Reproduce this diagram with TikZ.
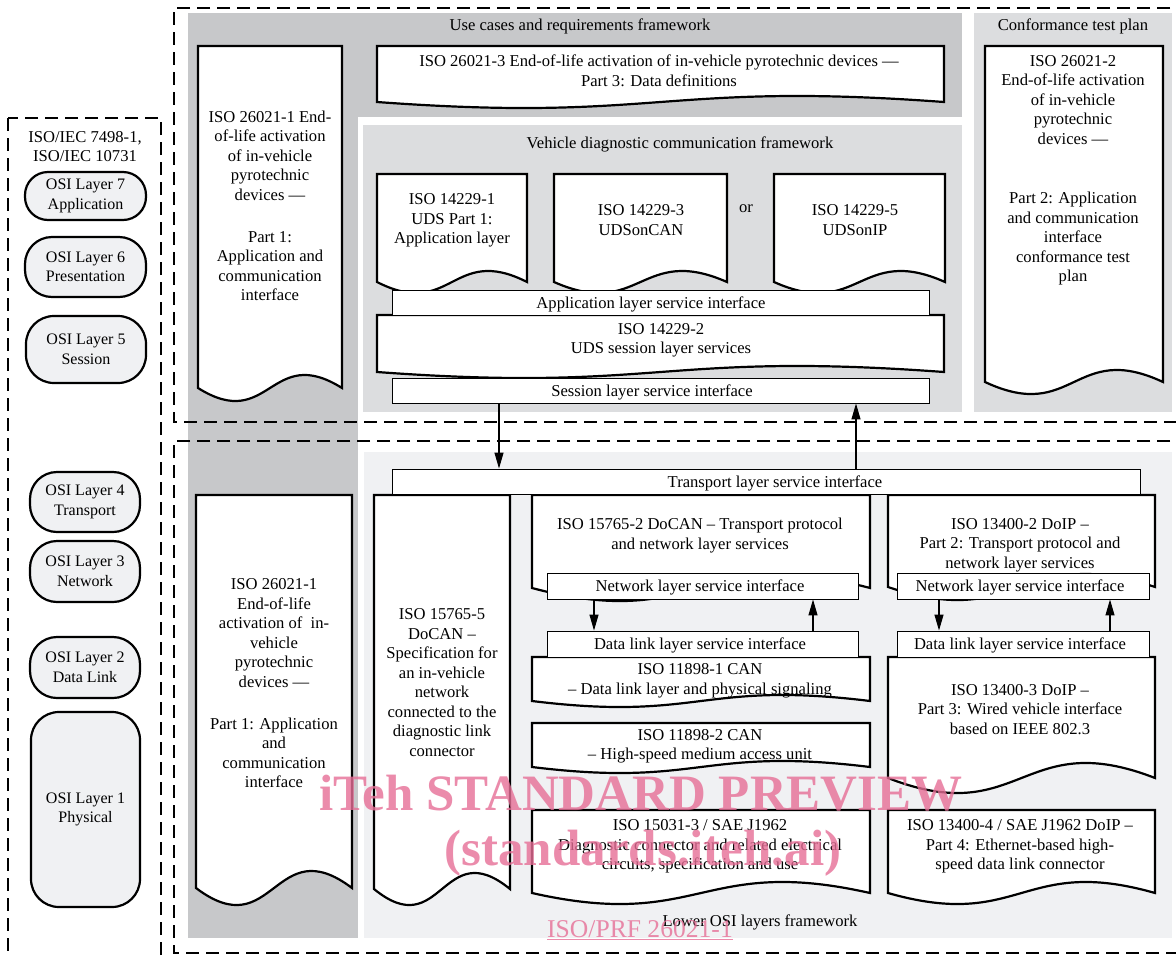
\documentclass[tikz,border=0pt]{standalone}
\usepackage{fontspec}
\setmainfont{Liberation Serif}
\usetikzlibrary{arrows.meta}
\definecolor{darkg}{RGB}{199,200,202}
\definecolor{midg}{RGB}{220,221,223}
\definecolor{lightg}{RGB}{240,241,243}
\definecolor{wm}{RGB}{230,110,150}
\tikzset{
  docline/.style={draw=black,line width=2.2pt,fill=white,line join=miter},
  ifbox/.style={draw=black,fill=white,line width=0.9pt,inner sep=0pt},
  txt/.style={font=\fontsize{16.6}{19.5}\selectfont,align=center,inner sep=0pt,yshift=-1.5pt},
  pill/.style={draw=black,line width=2.2pt,fill=lightg,align=center,inner sep=0pt,font=\fontsize{16}{19.5}\selectfont},
  dashrect/.style={draw=black,line width=1.3pt,dash pattern=on 13pt off 7pt},
  arr/.style={draw=black,line width=1.1pt,-{Triangle[length=16pt,width=9pt]}},
  wmtext/.style={text=wm,text opacity=0.8,inner sep=0pt}
}
\newcommand\docshape[5]{%
  \pgfmathsetmacro\dmid{(#1+#3)/2}%
  \pgfmathsetmacro\dk{3.47*#5}%
  \draw[docline] (#1,#4) -- (#1,#2) -- (#3,#2) -- (#3,#4) .. controls (\dmid,{#4-\dk}) and (\dmid,{#4+\dk}) .. (#1,#4) -- cycle;}
\begin{document}
\begin{tikzpicture}[x=1pt,y=-1pt]
\useasboundingbox (0,0) rectangle (1176,956);
\clip (0,0) rectangle (1176,956);
\fill[white] (0,0) rectangle (1176,956);
% backgrounds
\fill[darkg] (188,13) rectangle (962,117);
\fill[darkg] (188,13) rectangle (358,938);
\fill[midg] (363,125) rectangle (962,412);
\fill[midg] (974,13) rectangle (1172,412);
\fill[lightg] (364,452) rectangle (1172,938);
% dashed frames
\draw[dashrect] (8,118) rectangle (161,990);
\draw[dashrect] (1190,8) -- (174,8) -- (174,422) -- (1190,422);
\draw[dashrect] (1190,441) -- (174,441) -- (174,953) -- (1190,953);
% panel titles
\node[txt] (t-use) at (580,25) {Use cases and requirements framework};
\node[txt] (t-conf) at (1073,25) {Conformance test plan};
\node[txt] (t-veh) at (680,143) {Vehicle diagnostic communication framework};
\node[txt] (t-low) at (760,921) {Lower OSI layers framework};
\node[txt] (t-osi) at (85,145) {ISO/IEC 7498-1,\\ISO/IEC 10731};
% OSI pills
\node[pill,minimum width=121pt,minimum height=48pt,rounded corners=23pt] (l7) at (85.5,196) {OSI Layer 7\\Application};
\node[pill,minimum width=121pt,minimum height=60pt,rounded corners=27pt] (l6) at (85.5,267) {OSI Layer 6\\Presentation};
\node[pill,minimum width=120pt,minimum height=67pt,rounded corners=28pt] (l5) at (86,349.5) {OSI Layer 5\\Session};
\node[pill,minimum width=110pt,minimum height=60pt,rounded corners=27pt] (l4) at (85,502) {OSI Layer 4\\Transport};
\node[pill,minimum width=110pt,minimum height=61pt,rounded corners=27pt] (l3) at (85,571.5) {OSI Layer 3\\Network};
\node[pill,minimum width=110pt,minimum height=61pt,rounded corners=27pt] (l2) at (85,667.5) {OSI Layer 2\\Data Link};
\node[pill,minimum width=109pt,minimum height=195pt,rounded corners=28pt] (l1) at (85.5,809.5) {OSI Layer 1\\Physical};
% document shapes
\docshape{377}{46}{944}{102}{6}
\docshape{198}{46}{342}{388}{13}
\docshape{985}{46}{1163}{382}{12}
\docshape{377}{174}{527}{282}{11}
\docshape{554}{174}{727}{282}{11}
\docshape{774}{174}{945}{282}{11}
\docshape{377}{315}{944}{372}{6}
\docshape{196}{495}{352}{888}{17}
\docshape{374}{495}{510}{889}{16}
\docshape{532}{495}{870}{588}{13}
\docshape{888}{495}{1155}{587}{13}
\docshape{532}{657}{870}{701}{6}
\docshape{532}{723}{870}{767}{6}
\docshape{532}{810}{870}{893}{11}
\docshape{888}{657}{1155}{778}{15}
\docshape{888}{810}{1155}{893}{11}
% document texts
\node[txt] (d263) at (659,69.5) {ISO 26021-3 End-of-life activation of in-vehicle pyrotechnic devices —\\Part 3: Data definitions};
\node[txt] (d261ua) at (270,154) {ISO 26021-1 End-\\of-life activation\\of in-vehicle\\pyrotechnic\\devices —};
\node[txt] (d261ub) at (270,264.5) {Part 1:\\Application and\\communication\\interface};
\node[txt] (d262a) at (1073,98.5) {ISO 26021-2\\End-of-life activation\\of in-vehicle\\pyrotechnic\\devices —};
\node[txt] (d262b) at (1073,237.5) {Part 2: Application\\and communication\\interface\\conformance test\\plan};
\node[txt] (d1) at (452,219) {ISO 14229-1\\UDS Part 1:\\Application layer};
\node[txt] (d3) at (641,218.5) {ISO 14229-3\\UDSonCAN};
\node[txt] (or) at (746,207) {or};
\node[txt] (d5) at (855,218.5) {ISO 14229-5\\UDSonIP};
\node[txt] (d2) at (661,339) {ISO 14229-2\\UDS session layer services};
\node[txt] (d261la) at (274,631.5) {ISO 26021-1\\End-of-life\\activation of \ in-\\vehicle\\pyrotechnic\\devices —};
\node[txt] (d261lb) at (274,751.5) {Part 1: Application\\and\\communication\\interface};
\node[txt] (d157655) at (442,681) {ISO 15765-5\\DoCAN –\\Specification for\\an in-vehicle\\network\\connected to the\\diagnostic link\\connector};
\node[txt] (d157652) at (700,534) {ISO 15765-2 DoCAN – Transport protocol\\and network layer services};
\node[txt] (d118981) at (700,679.5) {ISO 11898-1 CAN\\– Data link layer and physical signaling};
\node[txt] (d118982) at (700,745) {ISO 11898-2 CAN\\– High-speed medium access unit};
\node[txt] (d150313) at (700,845) {ISO 15031-3 / SAE J1962\\Diagnostic connector and related electrical\\circuits, specification and use};
\node[txt] (d134002) at (1020,543.5) {ISO 13400-2 DoIP –\\Part 2: Transport protocol and\\network layer services};
\node[txt] (d134003) at (1020,708) {ISO 13400-3 DoIP –\\Part 3: Wired vehicle interface\\based on IEEE 802.3};
\node[txt] (d134004) at (1020,845) {ISO 13400-4 / SAE J1962 DoIP –\\Part 4: Ethernet-based high-\\speed data link connector};
% interface boxes
\node[ifbox,minimum width=537pt,minimum height=25pt] (appif) at (660.5,302.5) {};
\node[txt] (appift) at (651,302.5) {Application layer service interface};
\node[ifbox,minimum width=537pt,minimum height=25pt] (sessif) at (660.5,390.5) {};
\node[txt] (sessift) at (652,390.5) {Session layer service interface};
\node[ifbox,minimum width=748pt,minimum height=25pt] (transif) at (766,481.5) {};
\node[txt] (transift) at (775,481.5) {Transport layer service interface};
\node[ifbox,minimum width=311pt,minimum height=26pt] (netl) at (702.5,586) {};
\node[txt] (netlt) at (700,586) {Network layer service interface};
\node[ifbox,minimum width=311pt,minimum height=26pt] (dll) at (702.5,644) {};
\node[txt] (dllt) at (700,644) {Data link layer service interface};
\node[ifbox,minimum width=252pt,minimum height=26pt] (netr) at (1023,586) {};
\node[txt] (netrt) at (1020,586) {Network layer service interface};
\node[ifbox,minimum width=252pt,minimum height=26pt] (dlr) at (1023,644) {};
\node[txt] (dlrt) at (1020,644) {Data link layer service interface};
% arrows
\coordinate (xa) at (499,0);
\coordinate (xb) at (856,0);
\coordinate (xc) at (594,0);
\coordinate (xd) at (813,0);
\coordinate (xe) at (939,0);
\coordinate (xf) at (1110,0);
\draw[arr] (sessif.south -| xa) -- (transif.north -| xa);
\draw[arr] (transif.north -| xb) -- (sessif.south -| xb);
\draw[arr] (netl.south -| xc) -- (dll.north -| xc);
\draw[arr] (dll.north -| xd) -- (netl.south -| xd);
\draw[arr] (netr.south -| xe) -- (dlr.north -| xe);
\draw[arr] (dlr.north -| xf) -- (netr.south -| xf);
% watermark
\node[wmtext,font=\fontsize{51}{55}\selectfont\bfseries] (wm1) at (641,793) {iTeh STANDARD PREVIEW};
\node[wmtext,font=\fontsize{51}{55}\selectfont\bfseries] (wm2) at (643,853) {(standards.iteh.ai)};
\node[wmtext,font=\fontsize{25.6}{28}\selectfont] (wm3) at (640,930) {\underline{ISO/PRF 26021-1}};
\end{tikzpicture}
\end{document}
